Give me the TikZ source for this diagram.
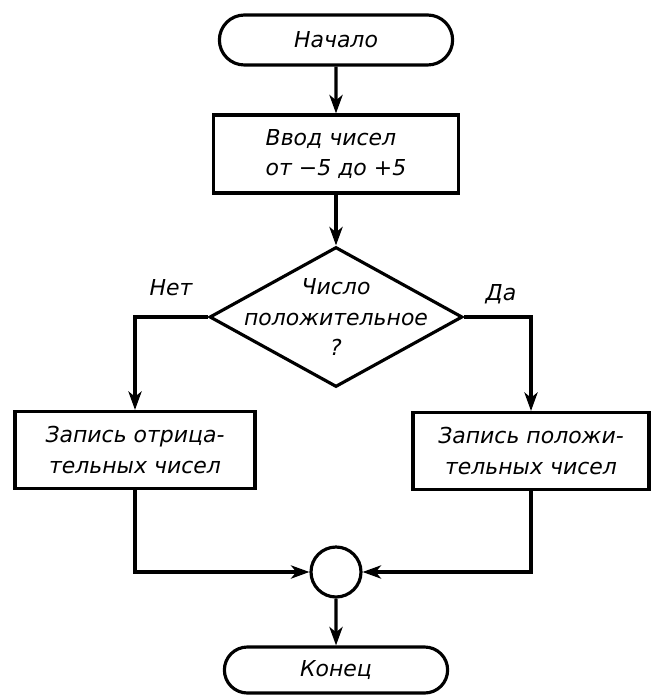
\documentclass[tikz,border=0pt]{standalone}
\usepackage{fontspec}
\setmainfont{DejaVu Sans}
\usetikzlibrary{arrows.meta}
\usetikzlibrary{shapes.geometric}
\usetikzlibrary{shapes.misc}

\begin{document}
\begin{tikzpicture}[x=0.02cm, y=-0.02cm, line width=1.8pt,
    font=\itshape\fontsize{12.5}{17.5}\selectfont,
    >={Stealth[length=10.5pt,width=7.5pt,inset=3pt]}]
\useasboundingbox (0,0) rectangle (650,695);

\tikzstyle{term}=[rounded rectangle, draw, minimum height=1cm]
\tikzstyle{box1}=[rectangle, draw, align=center, minimum width=4.8cm,
    minimum height=1.54cm]

\node[term, minimum width=4.9cm] (s) at (336,40) {Начало};
\node[box1, minimum width=4.9cm, minimum height=1.56cm, align=left] (b1) at (336,154) {Ввод чисел\\от −5 до +5};
\node[diamond, draw, minimum width=5.06cm, minimum height=2.8cm, inner sep=0pt,
    label={[align=center]center:Число\\положительное\\?}] (d) at (336,317) {};

\node[box1] (r1) at (135,450) {Запись отрица-\\тельных чисел};
\node[box1, minimum width=4.72cm] (r2) at (531,451) {Запись положи-\\тельных чисел};

\node[circle, draw, minimum size=1cm, inner sep=0pt] (c) at (336,572) {};
\node[term, minimum width=4.7cm, minimum height=0.92cm] (e) at (336,670) {Конец};

\node (no) at (171,288) {Нет};
\node (yes) at (501,294) {Да};

\draw[->] (s) -- (b1);
\draw[->] (b1) -- (d);
\draw[->] (d.west) -| (r1.north);
\draw[->] (d.east) -| (r2.north);
\draw[->] (r1.south) |- (c.west);
\draw[->] (r2.south) |- (c.east);
\draw[->] (c) -- (e);
\end{tikzpicture}
\end{document}
